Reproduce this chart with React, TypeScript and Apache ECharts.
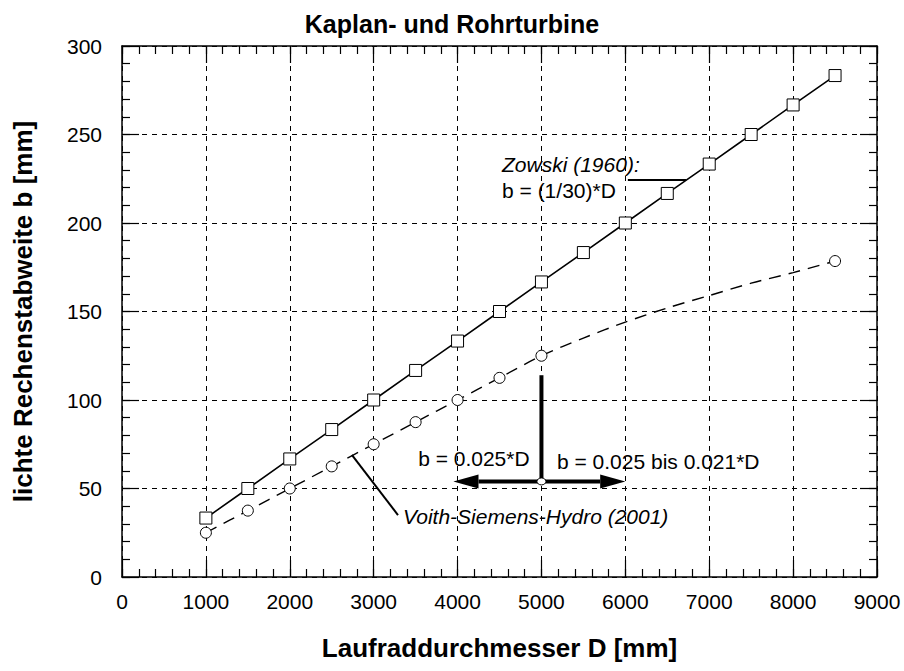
import React, { useEffect, useRef } from "react";
import * as echarts from "echarts";

const TITLE = "Kaplan- und Rohrturbine";
const X_NAME = "Laufraddurchmesser D [mm]";
const Y_NAME = "lichte Rechenstabweite b [mm]";

const X_MIN = 0;
const X_MAX = 9000;
const X_STEP = 1000;
const X_MINOR_STEP = 200;
const Y_MIN = 0;
const Y_MAX = 300;
const Y_STEP = 50;
const Y_MINOR_STEP = 10;

const diameters = [1000, 1500, 2000, 2500, 3000, 3500, 4000, 4500, 5000, 5500, 6000, 6500, 7000, 7500, 8000, 8500];
const zowski = [33.3, 50, 66.7, 83.3, 100, 116.7, 133.3, 150, 166.7, 183.3, 200, 216.7, 233.3, 250, 266.7, 283.3];
const voith = [25, 37.5, 50, 62.5, 75, 87.5, 100, 112.5, 125, 135, 144, 152, 159, 166, 172, 178.5];
const voithMarked = [true, true, true, true, true, true, true, true, true, false, false, false, false, false, false, true];

const zowskiLabel = ["Zowski (1960):", "b = (1/30)*D"];
const voithLabel = "Voith-Siemens-Hydro (2001)";
const leftRuleLabel = "b = 0.025*D";
const rightRuleLabel = "b = 0.025 bis 0.021*D";

const FONT = "Liberation Sans, Arial, sans-serif";

export default function App() {
  const ref = useRef<HTMLDivElement>(null);
  useEffect(() => {
    if (!ref.current) return;
    document.body.style.margin = "0";
    const chart = echarts.init(ref.current, null, { renderer: "svg" });
    const majorAxis = {
      type: "value" as const,
      axisLine: { show: true, onZero: false, lineStyle: { color: "#000", width: 1.5 } },
      axisTick: { show: true, inside: true, length: 17, lineStyle: { color: "#000", width: 1.2 } },
      minorTick: { show: false },
    };
    const minorAxis = {
      type: "value" as const,
      axisLine: { show: false, onZero: false },
      axisTick: { show: true, inside: true, length: 8, lineStyle: { color: "#000", width: 1.2 } },
      axisLabel: { show: false },
      splitLine: { show: false },
      minorTick: { show: false },
    };
    const option: any = {
      animation: false,
      backgroundColor: "#fff",
      textStyle: { fontFamily: FONT },
      title: {
        text: TITLE,
        left: "center",
        top: 6,
        textStyle: { fontFamily: FONT, fontSize: 25, fontWeight: "bold", color: "#000" },
      },
      grid: { left: 122, right: 27, top: 46, bottom: 94, containLabel: false },
      xAxis: [
        {
          ...majorAxis,
          min: X_MIN,
          max: X_MAX,
          interval: X_STEP,
          position: "bottom",
          name: X_NAME,
          nameLocation: "middle",
          nameGap: 58,
          nameTextStyle: { fontFamily: FONT, fontSize: 26, fontWeight: "bold", color: "#000", verticalAlign: "top" },
          axisLabel: { show: true, fontFamily: FONT, fontSize: 21, color: "#000", margin: 14, formatter: (v: number) => String(v) },
          splitLine: { show: true, lineStyle: { color: "#000", width: 1, type: [5, 5] } },
        },
        {
          ...majorAxis,
          min: X_MIN,
          max: X_MAX,
          interval: X_STEP,
          position: "top",
          axisLabel: { show: false },
          splitLine: { show: false },
        },
        { ...minorAxis, min: X_MIN, max: X_MAX, interval: X_MINOR_STEP, position: "bottom" },
        { ...minorAxis, min: X_MIN, max: X_MAX, interval: X_MINOR_STEP, position: "top" },
      ],
      yAxis: [
        {
          ...majorAxis,
          min: Y_MIN,
          max: Y_MAX,
          interval: Y_STEP,
          position: "left",
          name: Y_NAME,
          nameLocation: "middle",
          nameGap: 86,
          nameRotate: 90,
          nameTextStyle: { fontFamily: FONT, fontSize: 26, fontWeight: "bold", color: "#000" },
          axisLabel: { show: true, fontFamily: FONT, fontSize: 21, color: "#000", margin: 20, formatter: (v: number) => String(v) },
          splitLine: { show: true, lineStyle: { color: "#000", width: 1, type: [5, 5] } },
        },
        {
          ...majorAxis,
          min: Y_MIN,
          max: Y_MAX,
          interval: Y_STEP,
          position: "right",
          axisLabel: { show: false },
          splitLine: { show: false },
        },
        { ...minorAxis, min: Y_MIN, max: Y_MAX, interval: Y_MINOR_STEP, position: "left" },
        { ...minorAxis, min: Y_MIN, max: Y_MAX, interval: Y_MINOR_STEP, position: "right" },
      ],
      series: [
        {
          name: "Zowski (1960)",
          type: "line",
          data: diameters.map((d, i) => [d, zowski[i]]),
          symbol: "rect",
          symbolSize: 12,
          showAllSymbol: true,
          lineStyle: { color: "#000", width: 1.6 },
          itemStyle: { color: "#fff", borderColor: "#000", borderWidth: 1 },
          z: 3,
        },
        {
          name: "Voith-Siemens-Hydro (2001)",
          type: "line",
          smooth: 0.3,
          data: diameters.map((d, i) => ({
            value: [d, voith[i]],
            symbol: voithMarked[i] ? "circle" : "none",
          })),
          symbol: "circle",
          symbolSize: 11,
          showAllSymbol: true,
          lineStyle: { color: "#000", width: 1.4, type: [12, 8] },
          itemStyle: { color: "#fff", borderColor: "#000", borderWidth: 1 },
          z: 3,
        },
      ],
    };
    chart.setOption(option);

    const p = (x: number, y: number) => chart.convertToPixel({ gridIndex: 0 }, [x, y]) as number[];
    const textStyle = (size: number, italic = false) => ({
      fontFamily: FONT,
      fontSize: size,
      fontStyle: italic ? "italic" : "normal",
      fill: "#000",
    });

    const z1 = p(4530, 233.3);
    const z2 = p(4530, 220.3);
    const zl0 = p(6030, 224.3);
    const zl1 = p(6725, 224.3);
    const v0 = p(2740, 69);
    const v1 = p(3290, 35);
    const vt = p(3350, 34);
    const vTop = p(5000, 114);
    const center = p(5000, 54);
    const leftTip = p(3950, 54);
    const leftBase = p(4250, 54);
    const rightTip = p(6000, 54);
    const rightBase = p(5700, 54);
    const lt = p(3530, 67);
    const rt = p(5185, 65);
    const headHalf = 7;

    chart.setOption({
      graphic: [
        { type: "text", x: z1[0], y: z1[1], style: { ...textStyle(21, true), text: zowskiLabel[0], verticalAlign: "middle" }, z: 10 },
        { type: "text", x: z2[0], y: z2[1] + 3, style: { ...textStyle(21), text: zowskiLabel[1], verticalAlign: "middle" }, z: 10 },
        { type: "line", shape: { x1: zl0[0], y1: zl0[1], x2: zl1[0], y2: zl1[1] }, style: { stroke: "#000", lineWidth: 2 }, z: 10 },
        { type: "line", shape: { x1: v0[0], y1: v0[1], x2: v1[0], y2: v1[1] }, style: { stroke: "#000", lineWidth: 2 }, z: 10 },
        { type: "text", x: vt[0], y: vt[1], style: { ...textStyle(21, true), text: voithLabel, verticalAlign: "middle" }, z: 10 },
        { type: "line", shape: { x1: vTop[0], y1: vTop[1], x2: center[0], y2: center[1] }, style: { stroke: "#000", lineWidth: 4 }, z: 10 },
        { type: "line", shape: { x1: leftBase[0], y1: center[1], x2: rightBase[0], y2: center[1] }, style: { stroke: "#000", lineWidth: 4 }, z: 10 },
        {
          type: "polygon",
          shape: { points: [[leftTip[0], leftTip[1]], [leftBase[0], leftBase[1] - headHalf], [leftBase[0], leftBase[1] + headHalf]] },
          style: { fill: "#000" },
          z: 10,
        },
        {
          type: "polygon",
          shape: { points: [[rightTip[0], rightTip[1]], [rightBase[0], rightBase[1] - headHalf], [rightBase[0], rightBase[1] + headHalf]] },
          style: { fill: "#000" },
          z: 10,
        },
        { type: "ellipse", shape: { cx: center[0], cy: center[1], rx: 4.5, ry: 3.5 }, style: { fill: "#fff", stroke: "#000", lineWidth: 1 }, z: 11 },
        { type: "text", x: lt[0], y: lt[1], style: { ...textStyle(21), text: leftRuleLabel, verticalAlign: "middle" }, z: 10 },
        { type: "text", x: rt[0], y: rt[1], style: { ...textStyle(21), text: rightRuleLabel, verticalAlign: "middle" }, z: 10 },
      ],
    });

    return () => chart.dispose();
  }, []);
  return <div ref={ref} style={{ width: 904, height: 671 }} />;
}
